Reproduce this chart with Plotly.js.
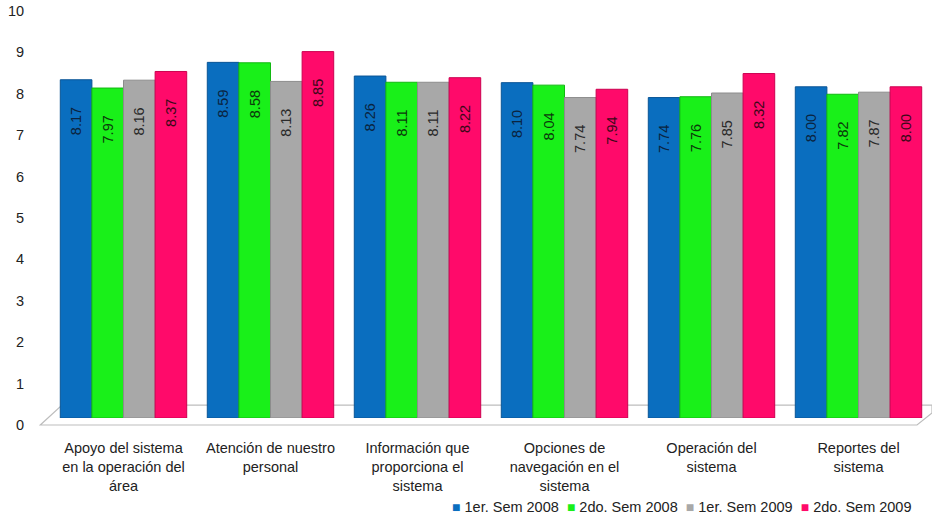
<!DOCTYPE html>
<html>
<head>
<meta charset="utf-8">
<script src="https://cdn.plot.ly/plotly-3.0.1.min.js"></script>
<style>html,body{margin:0;padding:0;background:#fff;}#chart{width:932px;height:522px;}</style>
</head>
<body>
<div id="chart"></div>
<script>
const categories = [
  "Apoyo del sistema<br>en la operación del<br>área",
  "Atención de nuestro<br>personal",
  "Información que<br>proporciona el<br>sistema",
  "Opciones de<br>navegación en el<br>sistema",
  "Operación del<br>sistema",
  "Reportes del<br>sistema"
];
const seriesNames = ["1er. Sem 2008", "2do. Sem 2008", "1er. Sem 2009", "2do. Sem 2009"];
const sem1_2008 = [8.17, 8.59, 8.26, 8.10, 7.74, 8.00];
const sem2_2008 = [7.97, 8.58, 8.11, 8.04, 7.76, 7.82];
const sem1_2009 = [8.16, 8.13, 8.11, 7.74, 7.85, 7.87];
const sem2_2009 = [8.37, 8.85, 8.22, 7.94, 8.32, 8.00];
const yTicks = [0,1,2,3,4,5,6,7,8,9,10];

const seriesValues = [sem1_2008, sem2_2008, sem1_2009, sem2_2009];
const colors = ["#0A6EBF", "#19F019", "#A8A8A8", "#FF0A6A"];
const lineColors = ["#0A5596", "#12B812", "#8C8C8C", "#CC0050"];
const textColors = ["#0b2440", "#0b3a0b", "#2a2a2a", "#3a0818"];
const FONT = "Liberation Sans, Arial, sans-serif";

const traces = seriesValues.map((vals, i) => ({
  type: "bar",
  name: seriesNames[i],
  x: categories,
  y: vals,
  marker: {color: colors[i], line: {color: lineColors[i], width: 1}},
  texttemplate: "%{y:.2f}\u00a0\u00a0\u00a0\u00a0\u00a0\u00a0",
  textposition: "inside",
  insidetextanchor: "end",
  textangle: -90,
  insidetextfont: {family: FONT, size: 14.5, color: textColors[i]},
  showlegend: false,
  hoverinfo: "skip"
}));

// legend row drawn as text: coloured square glyph + series name
const legendText = seriesNames.map((n, i) =>
  "<span style='color:" + colors[i] + ";font-size:14px'>■</span>\u00a0" + n
).join("\u00a0\u00a0");

const layout = {
  width: 932, height: 522,
  margin: {l: 50, r: 0, t: 4, b: 104},
  paper_bgcolor: "#fff", plot_bgcolor: "rgba(0,0,0,0)",
  font: {family: FONT, size: 14.5, color: "#222"},
  barmode: "group",
  bargap: 0.14,
  bargroupgap: 0,
  xaxis: {
    type: "category",
    showgrid: false, zeroline: false, showline: false,
    ticks: "outside", ticklen: 17, tickcolor: "rgba(0,0,0,0)",
    tickfont: {size: 14.5, color: "#222"},
    tickangle: 0
  },
  yaxis: {
    range: [0, 10],
    tickvals: yTicks,
    showgrid: false, zeroline: false, showline: false,
    ticks: "outside", ticklen: 22, tickcolor: "rgba(0,0,0,0)",
    ticklabelshift: 7,
    tickfont: {size: 14.5, color: "#222"}
  },
  annotations: [
    {xref: "paper", yref: "paper", x: 0.98, xanchor: "right", y: -0.215, yanchor: "middle",
     text: legendText, showarrow: false, font: {family: FONT, size: 14.5, color: "#222"}}
  ],
  shapes: [
    {type: "path", xref: "paper", yref: "paper", layer: "below",
     path: "M -0.011,-0.0169 L 0.983,-0.0169 L 1.0,0.012 L 1.0,0.031 L 0.0136,0.031 Z",
     line: {color: "#BDBDBD", width: 1.2}, fillcolor: "rgba(255,255,255,0)"}
  ]
};

Plotly.newPlot("chart", traces, layout, {displayModeBar: false, staticPlot: true});
</script>
</body>
</html>
